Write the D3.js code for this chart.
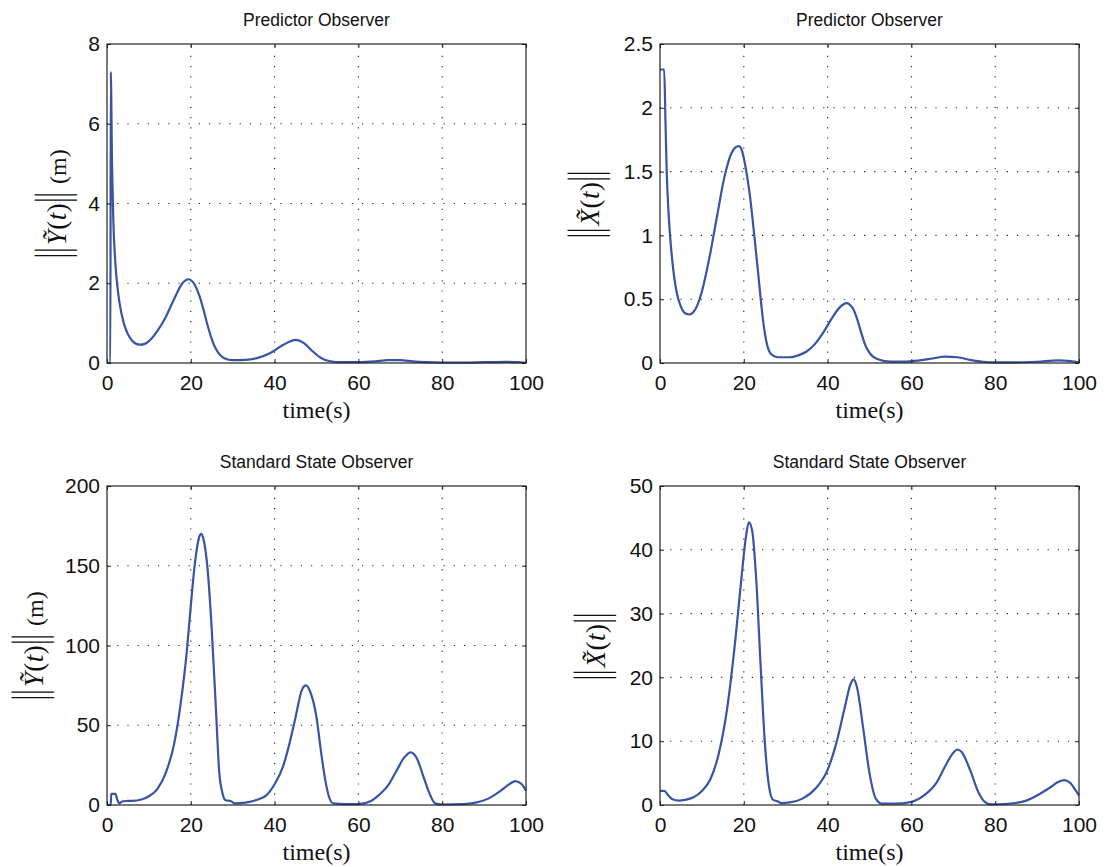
<!DOCTYPE html>
<html>
<head>
<meta charset="utf-8">
<script src="https://cdn.jsdelivr.net/npm/d3@7"></script>
<style>
  html, body { margin: 0; padding: 0; background: #fff; }
  svg { display: block; }
  .tick text { font-family: "Liberation Sans", Arial, sans-serif; font-size: 21px; fill: #111; }
  .title { font-family: "Liberation Sans", Arial, sans-serif; font-size: 17.5px; fill: #111; }
  .xlab, .ylab { font-family: "Liberation Serif", "DejaVu Serif", serif; fill: #111; }
</style>
</head>
<body>
<svg id="chart" width="1106" height="867"></svg>
<script>
// Observer error norms over time, [time (s), value]
const predictorY = [
  [0, 0], [0.8, 0], [0.9, 7.3], [1.2, 5.0], [1.5, 3.6], [2, 2.5], [2.5, 1.9], [3, 1.5],
  [4, 1.0], [5, 0.72], [6, 0.56], [7, 0.48], [8, 0.46], [9, 0.48], [10, 0.55],
  [12, 0.8], [14, 1.15], [16, 1.6], [18, 2.0], [19.5, 2.1], [21, 1.95], [22, 1.7],
  [23, 1.35], [24, 0.95], [25, 0.6], [26, 0.35], [27, 0.2], [28, 0.12], [30, 0.07],
  [33, 0.08], [36, 0.13], [39, 0.25], [42, 0.45], [45, 0.58], [47, 0.5], [49, 0.3],
  [51, 0.13], [53, 0.05], [56, 0.02], [60, 0.02], [64, 0.04], [67, 0.07], [70, 0.07],
  [73, 0.04], [76, 0.02], [80, 0.01], [85, 0.01], [90, 0.02], [95, 0.03], [98, 0.02], [100, 0.01]
];
const predictorX = [
  [0, 2.3], [1.0, 2.3], [1.3, 1.9], [1.6, 1.5], [2, 1.2], [2.4, 1.0], [3, 0.78], [4, 0.55],
  [5, 0.44], [6, 0.39], [7, 0.38], [8, 0.4], [9, 0.46], [10, 0.56], [11, 0.7], [12, 0.86],
  [13, 1.04], [14, 1.22], [15, 1.4], [16, 1.54], [17, 1.64], [18, 1.69], [18.8, 1.7],
  [19.6, 1.66], [20.5, 1.52], [21.5, 1.3], [22.5, 1.0], [23.5, 0.68], [24.5, 0.36], [25.5, 0.15],
  [26.5, 0.07], [28, 0.045], [31, 0.045], [33, 0.06], [35, 0.09], [37, 0.15], [39, 0.24],
  [41, 0.35], [43, 0.44], [44.5, 0.47], [46, 0.43], [47, 0.35], [48, 0.24], [49, 0.14],
  [50, 0.08], [52, 0.03], [55, 0.01], [58, 0.01], [62, 0.02], [65, 0.035], [68, 0.05],
  [71, 0.045], [74, 0.025], [77, 0.01], [80, 0.005], [85, 0.005], [90, 0.01], [95, 0.02],
  [98, 0.015], [100, 0.005]
];
const standardY = [
  [0, 0], [0.9, 0], [1.0, 7], [2.0, 7], [2.5, 3], [3.0, 1], [3.5, 2], [4.5, 2.5], [6, 2.6],
  [8, 3.3], [10, 5.5], [12, 10], [14, 20], [16, 38], [17.5, 62], [19, 95], [20, 125],
  [21, 152], [22, 168], [22.5, 170], [23, 167], [24, 148], [25, 110], [26, 60], [26.8, 20],
  [27.5, 8], [28.3, 3], [29.5, 2.5], [30.5, 1], [33, 1.5], [36, 3.5], [38, 6], [40, 13],
  [42, 24], [43.5, 38], [45, 55], [46.5, 72], [47.5, 75], [48.5, 71], [50, 55], [51, 35],
  [52, 17], [53, 5], [54, 1], [57, 0.5], [60, 0.5], [63, 2.5], [65, 6.5], [67, 12],
  [69, 21], [71, 30], [72.5, 33], [74, 29], [75.5, 18], [77, 7], [78.3, 1], [80, 0.3],
  [85, 0.5], [88, 1.5], [91, 4], [94, 9], [96, 13], [97.5, 15], [99, 13], [100, 9]
];
const standardX = [
  [0, 2.2], [1, 2.2], [2, 1.5], [3, 0.9], [4.5, 0.7], [6, 0.8], [8, 1.2], [10, 2.2],
  [12, 4], [14, 8], [16, 15], [18, 26], [19.5, 36], [20.5, 42], [21.2, 44.3], [22, 43],
  [23, 35], [24, 22], [25, 10], [26, 3], [27, 0.8], [28, 0.6], [29, 0.3], [31, 0.4],
  [34, 1], [37, 2.5], [40, 5.5], [42, 9.5], [44, 15], [45.5, 19], [46.2, 19.7], [47, 18.5],
  [48.5, 12], [50, 5], [51.5, 1], [53, 0.2], [56, 0.2], [60, 0.5], [63, 1.5], [66, 3.5],
  [68, 6], [70, 8.2], [71, 8.7], [72, 8.3], [74, 5.5], [76, 2], [77.5, 0.5], [79, 0.1],
  [83, 0.2], [87, 0.6], [90, 1.5], [93, 2.7], [95, 3.6], [96.5, 3.9], [98, 3.4], [99, 2.5],
  [100, 1.5]
];

// Axis ticks
const timeTicks = [0, 20, 40, 60, 80, 100];
const predYTicks = [0, 2, 4, 6, 8];
const predXTicks = [0, 0.5, 1, 1.5, 2, 2.5];
const stdYTicks = [0, 50, 100, 150, 200];
const stdXTicks = [0, 10, 20, 30, 40, 50];

const titles = ["Predictor Observer", "Predictor Observer", "Standard State Observer", "Standard State Observer"];

const panels = [
  { data: predictorY, yTicks: predYTicks, title: titles[0], sym: "Y", unit: true,
    left: 107, top: 44, labelX: 66 },
  { data: predictorX, yTicks: predXTicks, title: titles[1], sym: "X", unit: false,
    left: 660, top: 44, labelX: 599 },
  { data: standardY, yTicks: stdYTicks, title: titles[2], sym: "Y", unit: true,
    left: 107, top: 486, labelX: 43 },
  { data: standardX, yTicks: stdXTicks, title: titles[3], sym: "X", unit: false,
    left: 660, top: 486, labelX: 605 }
];

const W = 419, H = 319;
const lineColor = "#3953a7";
const svg = d3.select("#chart");

panels.forEach(p => {
  const g = svg.append("g").attr("transform", `translate(${p.left},${p.top})`);
  const x = d3.scaleLinear().domain([0, 100]).range([0, W]);
  const yMax = p.yTicks[p.yTicks.length - 1];
  const y = d3.scaleLinear().domain([0, yMax]).range([H, 0]);

  // dotted grid
  const grid = g.append("g").attr("stroke", "#222").attr("stroke-width", 1.1)
    .attr("stroke-dasharray", "1.2,9");
  grid.selectAll(".gx").data(timeTicks.slice(1, -1)).join("line")
    .attr("x1", d => x(d)).attr("x2", d => x(d)).attr("y1", H).attr("y2", 0);
  grid.selectAll(".gy").data(p.yTicks.slice(1, -1)).join("line")
    .attr("x1", 0).attr("x2", W).attr("y1", d => y(d)).attr("y2", d => y(d));

  // data line
  const line = d3.line().x(d => x(d[0])).y(d => y(d[1])).curve(d3.curveMonotoneX);
  g.append("path").datum(p.data).attr("d", line)
    .attr("fill", "none").attr("stroke", lineColor).attr("stroke-width", 2.2)
    .attr("stroke-linejoin", "round");

  // axes with inward ticks on all sides
  const fmt = d3.format("");
  const axB = g.append("g").attr("transform", `translate(0,${H})`)
    .call(d3.axisBottom(x).tickValues(timeTicks).tickFormat(fmt).tickSizeInner(-4).tickSizeOuter(0).tickPadding(12));
  const axL = g.append("g")
    .call(d3.axisLeft(y).tickValues(p.yTicks).tickFormat(fmt).tickSizeInner(-4).tickSizeOuter(0).tickPadding(7));
  const axT = g.append("g")
    .call(d3.axisTop(x).tickValues(timeTicks).tickFormat("").tickSizeInner(-4).tickSizeOuter(0));
  const axR = g.append("g").attr("transform", `translate(${W},0)`)
    .call(d3.axisRight(y).tickValues(p.yTicks).tickFormat("").tickSizeInner(-4).tickSizeOuter(0));
  [axB, axL, axT, axR].forEach(a => {
    a.select(".domain").remove();
    a.selectAll(".tick line").attr("stroke", "#222");
  });

  // frame
  g.append("rect").attr("width", W).attr("height", H)
    .attr("fill", "none").attr("stroke", "#222").attr("stroke-width", 1.2);

  // title
  svg.append("text").attr("class", "title")
    .attr("x", p.left + W / 2).attr("y", p.top - 18)
    .attr("text-anchor", "middle").text(p.title);

  // x label
  svg.append("text").attr("class", "xlab")
    .attr("x", p.left + W / 2).attr("y", p.top + H + 55)
    .attr("text-anchor", "middle").attr("font-size", 24).text("time(s)");

  // y label: ||Ỹ(t)|| (m) / ||X̃(t)||, laid out piece by piece along the rotated baseline
  const lab = svg.append("g").attr("class", "ylab")
    .attr("transform", `translate(${p.labelX},${p.top + H / 2}) rotate(-90)`);
  const fs = 27;
  const barScale = 1.72;         // vertical stretch of the norm delimiters
  const barInkMid = -0.23 * fs;  // centre of the bar glyph relative to its baseline
  const pieces = [
    { t: "||", bar: true },
    { t: p.sym === "Y" ? "Ỹ" : "X\u0303", italic: true },
    { t: "(" },
    { t: "t", italic: true },
    { t: ")" },
    { t: "||", bar: true }
  ];
  if (p.unit) pieces.push({ t: "\u00a0(m)", small: true });
  let cx = 0;
  const nodes = [];
  pieces.forEach(pc => {
    const size = pc.small ? 24 : fs;
    const t = lab.append("text").attr("font-size", size)
      .attr("font-style", pc.italic ? "italic" : "normal").text(pc.t);
    const w = t.node().getComputedTextLength();
    nodes.push({ node: t, x: cx, bar: pc.bar });
    cx += w + (pc.bar ? 2 : 0.5);
  });
  const total = cx;
  nodes.forEach(n => {
    const px = n.x - total / 2;
    if (n.bar) {
      n.node.attr("transform", `translate(${px},-10) scale(1,${barScale}) translate(0,${-barInkMid})`);
    } else {
      n.node.attr("x", px).attr("y", 0);
    }
  });
});
</script>
</body>
</html>
